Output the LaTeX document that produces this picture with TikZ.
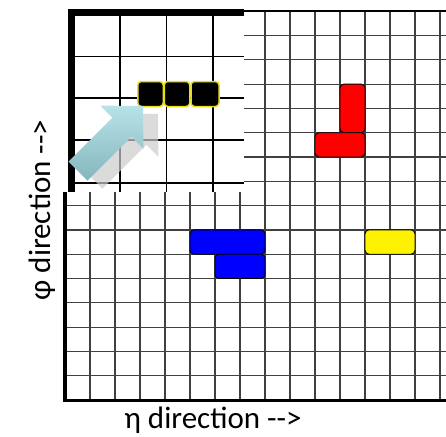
\documentclass[tikz,border=0pt]{standalone}
\usepackage{fontspec}
\setmainfont{Carlito}
\begin{document}
\begin{tikzpicture}[x=1pt,y=-1pt,
  fineline/.style={draw=black!75,line width=1.2pt},
  axisline/.style={draw=black,line width=3.5pt},
  coarseline/.style={draw=black,line width=1.8pt},
  thickborder/.style={draw=black,line width=6.5pt},
  piece/.style={draw=black,line width=0.9pt,rounded corners=4pt},
  hitbox/.style={fill=black,draw=yellow!90!black,line width=1.5pt,rounded corners=3.5pt},
  label/.style={font=\fontsize{31}{33}\selectfont,inner sep=0pt}]
\useasboundingbox (0,0) rectangle (446,436);
\fill[white] (0,0) rectangle (446,436);
% fine grid
\foreach \k in {1,...,15}{
  \draw[fineline] ({65+25*\k},11.2) -- ({65+25*\k},399);
}
\foreach \k in {1,...,15}{
  \draw[fineline] (65,{400-24.3*\k}) -- (446,{400-24.3*\k});
}
\draw[draw=black,line width=2.4pt] (65,11.2) -- (446,11.2);
\draw[axisline] (65,9.5) -- (65,400.5) -- (446,400.5);
% coloured pieces
\node[piece,fill=red,minimum width=25pt,minimum height=48.6pt,inner sep=0pt] (redv) at (352.5,108.4) {};
\node[piece,fill=red,minimum width=50pt,minimum height=24.3pt,inner sep=0pt] (redh) at (340,144.85) {};
\node[piece,fill=blue,minimum width=75pt,minimum height=24.3pt,inner sep=0pt] (bluet) at (227.5,242.05) {};
\node[piece,fill=blue,minimum width=50pt,minimum height=24.3pt,inner sep=0pt] (blueb) at (240,266.35) {};
\node[piece,fill=yellow,minimum width=50pt,minimum height=24.3pt,inner sep=0pt] (yell) at (390,242.05) {};
% inset (zoomed view)
\fill[white] (58,0) rectangle (244,192);
\foreach \x in {120,166.5,213}{
  \draw[coarseline] (\x,12) -- (\x,192);
}
\foreach \y in {56.5,98,140,183}{
  \draw[coarseline] (72,\y) -- (244,\y);
}
\draw[thickborder] (71.5,9.25) -- (71.5,192);
\draw[thickborder] (68.25,12.5) -- (244,12.5);
\node[hitbox,minimum width=25.5pt,minimum height=25pt,inner sep=0pt] (h1) at (150.5,94) {};
\node[hitbox,minimum width=25.5pt,minimum height=25pt,inner sep=0pt] (h2) at (177,94) {};
\node[hitbox,minimum width=28pt,minimum height=25pt,inner sep=0pt] (h3) at (205,94) {};
% arrow with shadow
\fill[black!20,opacity=0.7] ([shift={(15,8)}]68.5,161.5) -- ([shift={(15,8)}]112.3,117.7) -- ([shift={(15,8)}]100.2,105.6) -- ([shift={(15,8)}]143,106) -- ([shift={(15,8)}]143.4,148.8) -- ([shift={(15,8)}]131.3,136.7) -- ([shift={(15,8)}]87.5,180.5) -- cycle;
\shade[top color={rgb,255:red,184;green,226;blue,232},bottom color={rgb,255:red,132;green,182;blue,190}]
  (68.5,161.5) -- (112.3,117.7) -- (100.2,105.6) -- (143,106) -- (143.4,148.8) -- (131.3,136.7) -- (87.5,180.5) -- cycle;
% labels
\node[label,anchor=base] (eta) at (213,428) {η direction -{}->};
\node[label,anchor=base,rotate=90] (phi) at (50,210) {φ direction -{}->};
\end{tikzpicture}
\end{document}
